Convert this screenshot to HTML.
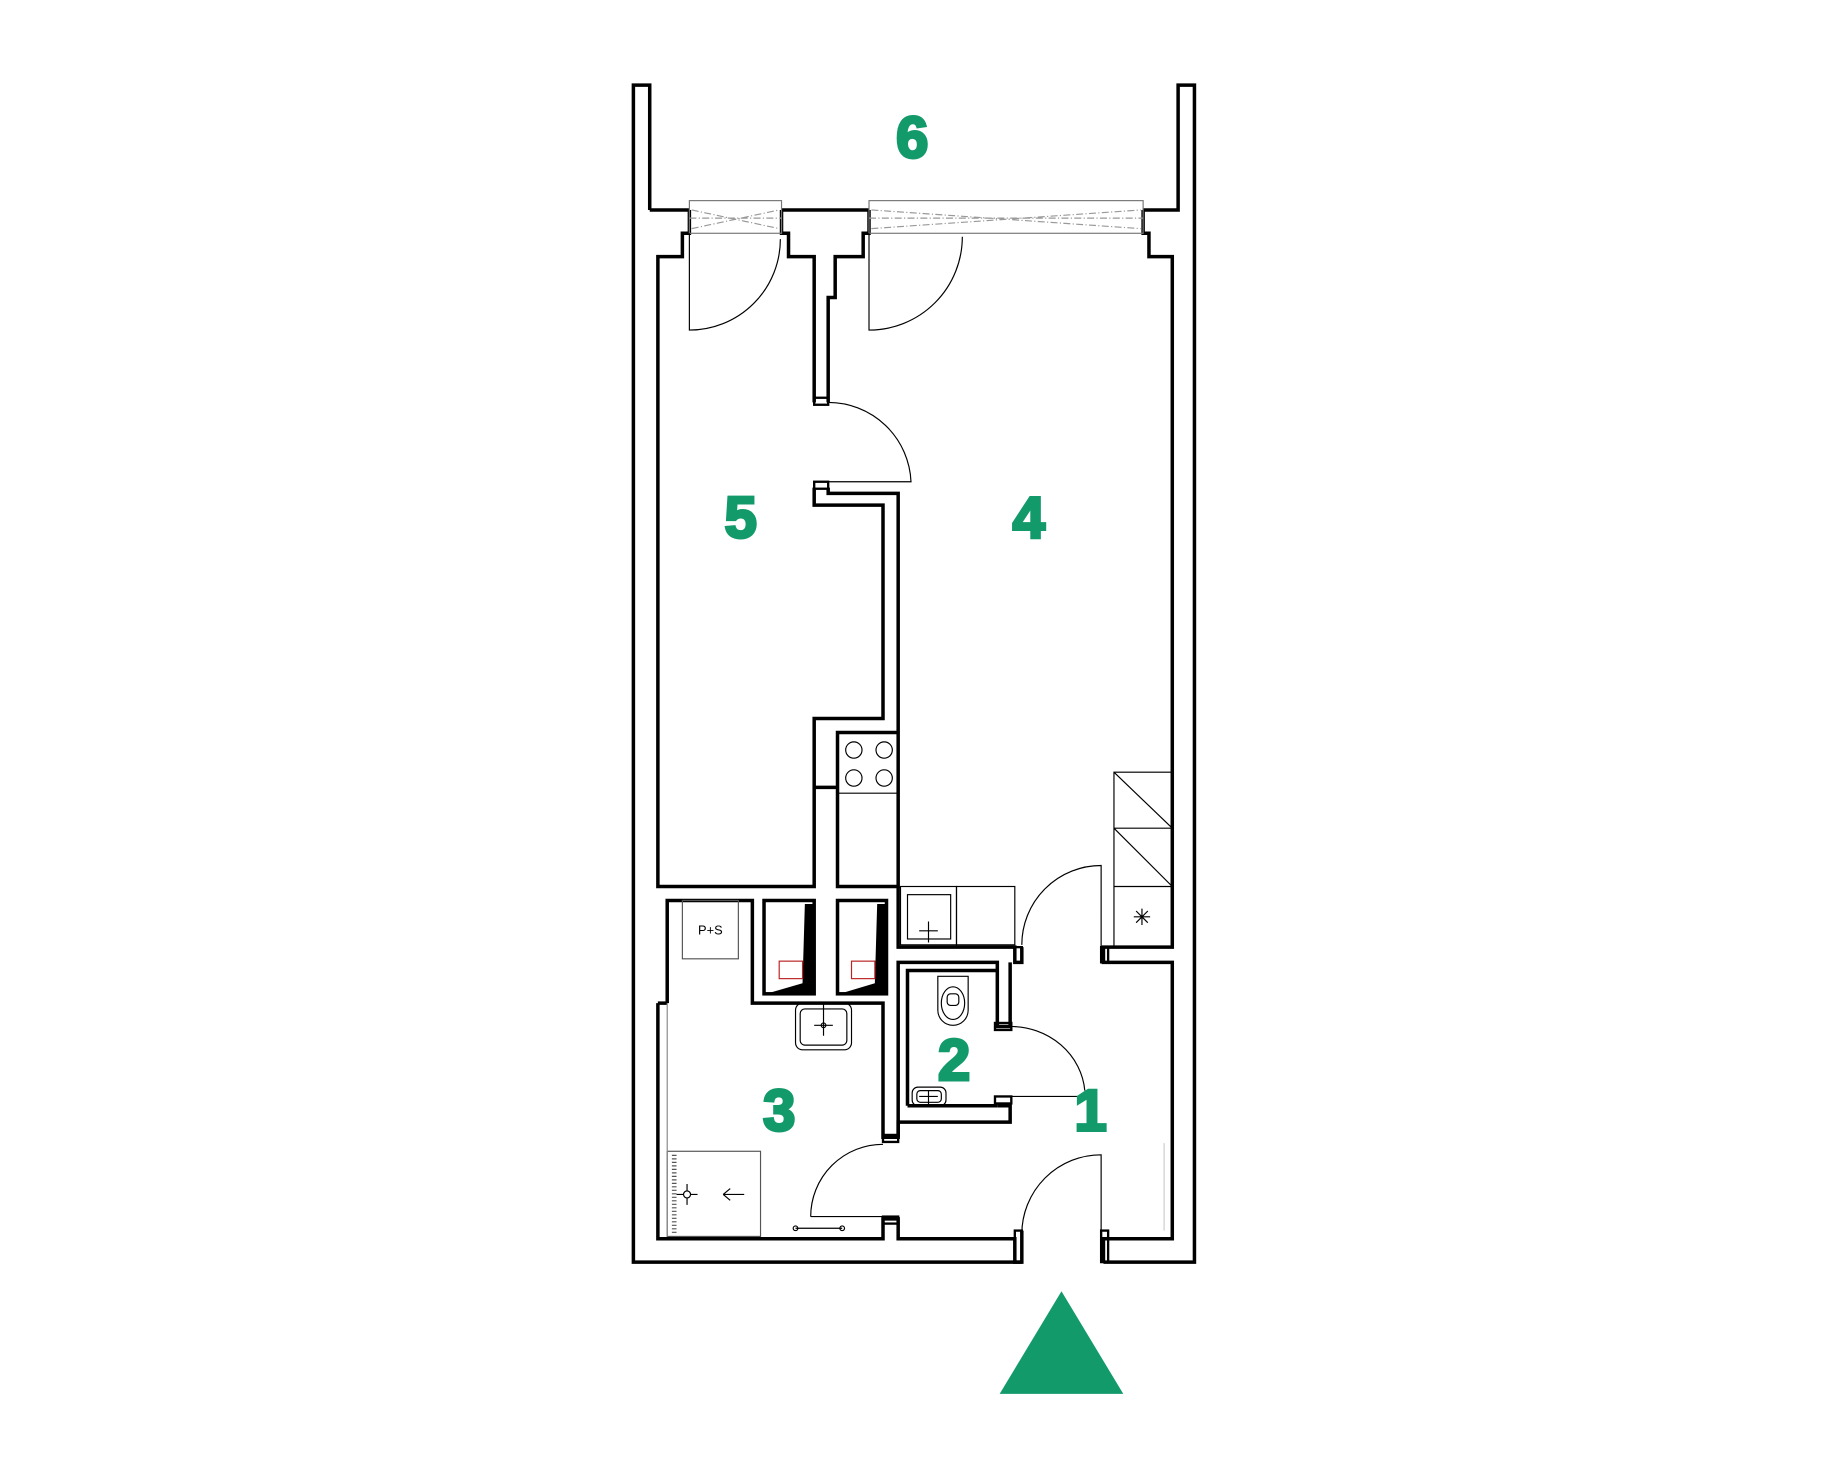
<!DOCTYPE html>
<html><head><meta charset="utf-8"><style>html,body{margin:0;padding:0;background:#fff}svg{display:block}</style></head>
<body>
<svg width="1829" height="1464" viewBox="0 0 1568 1255.1" xmlns="http://www.w3.org/2000/svg">
<rect width="1568" height="1256" fill="#fff"/>
<g fill="none" stroke="#000" stroke-width="3" stroke-linejoin="miter">
<polyline points="557,180 557,73 543,73 543,1082 876,1082"/>
<polyline points="946,1082 1024,1082 1024,73 1010,73 1010,180 980,180"/>
<polyline points="591,180 557,180"/>
<polyline points="670,180 745,180"/>
<polyline points="591,180 591,200 585,200 585,220 564,220 564,760 698,760 698,616 757,616 757,433 698,433 698,418"/>
<polyline points="670,180 670,200 676,200 676,220 698,220 698,345"/>
<polyline points="710,345 710,255 716,255 716,220 740,220 740,200 745,200 745,180"/>
<polyline points="980,180 980,200 985,200 985,220 1005,220 1005,812 946,812 946,825 1005,825 1005,1062 946,1062 946,1082"/>
<polyline points="710,418 710,423 770,423 770,760 718,760 718,628 770,628"/>
<line x1="698" y1="675" x2="718" y2="675"/>
<rect x="698" y="341" width="12" height="6" stroke-width="2"/>
<rect x="698" y="413" width="12" height="6" stroke-width="2"/>
<polyline points="770,760 770,812 870,812 870,825 876,825 876,812"/>
<polyline points="572,860 572,772 645,772 645,860 757,860 757,975 770,975 770,962 866,962 866,948 855,948"/>
<polyline points="564,860 564,1062 757,1062 757,1045 770,1045 770,1062 870,1062 870,1082 876,1082 876,1055"/>
<line x1="564" y1="860" x2="572" y2="860"/>
<polyline points="770,975 770,825 855,825 855,880 866,880 866,825"/>
<polyline points="778,948 778,832 855,832"/>
<line x1="778" y1="948" x2="855" y2="948"/>
<rect x="853" y="877" width="14" height="6" stroke-width="2"/>
<rect x="853" y="940" width="14" height="6" stroke-width="2"/>
<rect x="757" y="973" width="13" height="6" stroke-width="2"/>
<rect x="757" y="1043" width="13" height="6" stroke-width="2"/>
<rect x="870" y="1055" width="6" height="27" stroke-width="2"/>
<rect x="944" y="1055" width="6" height="27" stroke-width="2"/>
<rect x="870" y="812" width="6" height="13" stroke-width="2"/>
<rect x="944" y="812" width="6" height="13" stroke-width="2"/>
<rect x="655" y="772" width="43" height="80"/>
<rect x="718" y="772" width="42" height="80"/>
</g>
<path d="M690,775 L698,775 L698,852 L657,852 L688,843 Z" fill="#000"/>
<path d="M752,775 L760,775 L760,852 L720,852 L750,843 Z" fill="#000"/>
<rect x="668" y="824" width="20" height="15" fill="none" stroke="#b22" stroke-width="1"/>
<rect x="730" y="824" width="20" height="15" fill="none" stroke="#b22" stroke-width="1"/>
<g fill="none" stroke="#000" stroke-width="1">
<rect x="591" y="172" width="79" height="28" stroke="#777"/>
<path d="M593,180 L668,196 M593,196 L668,180" stroke="#999" stroke-dasharray="6,2,1,2"/>
<rect x="745" y="172" width="235" height="28" stroke="#777"/>
<path d="M747,180 L978,196 M747,196 L978,180" stroke="#999" stroke-dasharray="6,2,1,2"/>
<line x1="745" y1="187" x2="980" y2="187" stroke="#999" stroke-dasharray="6,2,1,2"/>
<line x1="591" y1="187" x2="670" y2="187" stroke="#999" stroke-dasharray="6,2,1,2"/>
<path d="M591,200 L591,283 A78,78 0 0 0 669,205"/>
<path d="M745,200 L745,283 A80,80 0 0 0 825,203"/>
<path d="M710,345 A71,71 0 0 1 781,413 L710,413"/>
<path d="M876,810 A68,68 0 0 1 944,742 L944,812"/>
<path d="M876,1058 A68,68 0 0 1 944,990 L944,1058"/>
<path d="M695,1043 A62,62 0 0 1 757,981"/>
<path d="M695,1043 L757,1043"/>
<path d="M866,880 A64,60 0 0 1 930,935"/>
<path d="M866,940 L925,940"/>
<line x1="718" y1="680" x2="770" y2="680"/>
<circle cx="732" cy="643" r="7"/><circle cx="758" cy="643" r="7"/>
<circle cx="732" cy="667" r="7"/><circle cx="758" cy="667" r="7"/>
<rect x="772" y="760" width="48" height="50"/>
<rect x="778" y="767" width="37" height="38"/>
<path d="M796,790 V808 M788,798 H804"/>
<rect x="820" y="760" width="50" height="50"/>
<rect x="955" y="662" width="50" height="150"/>
<path d="M955,710 H1005 M955,760 H1005 M955,662 L1005,710 M955,710 L1005,760"/>
<path d="M979,779 V793 M972,786 H986 M974,781 L984,791 M984,781 L974,791"/>
<rect x="585" y="772" width="48" height="50" stroke="#555"/>
<rect x="682" y="860" width="48" height="40" rx="6"/>
<rect x="686" y="865" width="40" height="31" rx="4"/>
<path d="M706,860 V888 M698,879 H714"/><circle cx="706" cy="879" r="2"/>
<rect x="572" y="987" width="80" height="73" stroke="#555"/>
<line x1="578" y1="990" x2="578" y2="1058" stroke="#555" stroke-width="4" stroke-dasharray="1,2"/>
<path d="M580,1024 H598 M589,1015 V1033 M620,1024 H638 M620,1024 L626,1019 M620,1024 L626,1029"/><circle cx="589" cy="1024" r="3" fill="#fff"/>
<path d="M682,1053 H722"/><circle cx="682" cy="1053" r="2"/><circle cx="722" cy="1053" r="2"/>
<line x1="572" y1="860" x2="572" y2="1060" stroke="#888"/>
<line x1="998" y1="980" x2="998" y2="1055" stroke="#ccc"/>
<path d="M804,837 H830 V866 A13,13 0 0 1 804,866 Z"/>
<ellipse cx="817" cy="860" rx="10" ry="14"/>
<rect x="812" y="852" width="10" height="10" rx="3"/>
<rect x="782" y="932" width="29" height="16" rx="5"/>
<rect x="786" y="935" width="21" height="10" rx="3"/>
<path d="M796,935 V947 M788,940 H804"/>
</g>
<text x="609" y="801" font-family="Liberation Sans, sans-serif" font-size="11" text-anchor="middle">P+S</text>
<g font-family="Liberation Sans, sans-serif" font-weight="bold" font-size="50" fill="#139a6b" stroke="#139a6b" stroke-width="2.5" text-anchor="middle">
<text x="782" y="135">6</text>
<text x="635" y="461">5</text>
<text x="882" y="461">4</text>
<text x="668" y="969">3</text>
<text x="818" y="926">2</text>
<text x="935" y="969">1</text>
</g>
<polygon points="910,1107 857,1195 963,1195" fill="#139a6b"/>
</svg>
</body></html>
